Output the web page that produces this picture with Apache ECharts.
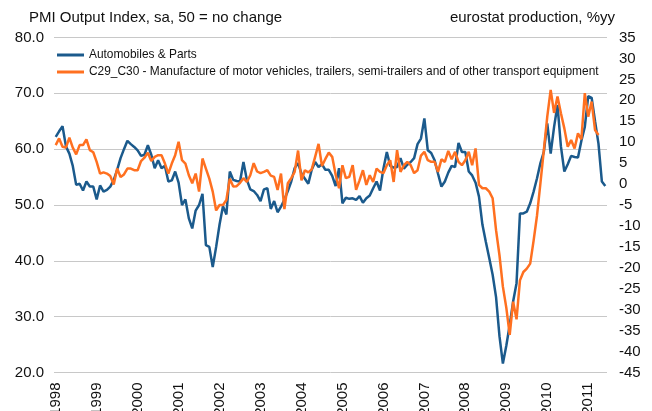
<!DOCTYPE html>
<html>
<head>
<meta charset="utf-8">
<script src="https://cdn.jsdelivr.net/npm/echarts@6/dist/echarts.min.js"></script>
<style>
  html, body { margin: 0; padding: 0; background: #fff; }
  #chart { width: 652px; height: 411px; }
</style>
</head>
<body>
<div id="chart"></div>
<script>
// monthly, Jan 1998 onwards
const years = [1998, 1999, 2000, 2001, 2002, 2003, 2004, 2005, 2006, 2007, 2008, 2009, 2010, 2011]
const monthCount = 162

// PMI output index, automobiles & parts (left axis)
const autoParts = [
  62.2, 63.2, 64.1, 60.5, 59.2, 57.0, 53.6, 53.8, 52.6, 54.2, 53.3, 53.3,
  51.0, 53.5, 52.4, 52.7, 53.3, 54.5, 56.3, 58.4, 60.0, 61.5, 60.9, 60.4,
  59.8, 58.8, 59.0, 60.7, 59.0, 56.6, 58.0, 56.6, 57.0, 54.2, 54.4, 56.0,
  54.0, 50.0, 51.0, 47.6, 45.8, 49.0, 50.0, 52.0, 42.8, 42.5, 38.9, 42.5,
  46.5, 49.8, 48.3, 56.0, 54.5, 54.3, 54.2, 57.7, 54.5, 52.8, 52.5, 51.8,
  50.7, 52.8, 53.0, 49.3, 50.7, 48.7, 49.7, 51.0, 52.5, 54.2, 56.6, 57.5,
  55.6, 54.7, 53.8, 56.3, 57.7, 56.8, 57.3, 56.3, 56.3, 55.2, 53.4, 56.6,
  50.3, 51.3, 51.1, 51.2, 50.9, 51.6, 50.4, 51.2, 51.7, 53.0, 54.2, 52.6,
  56.5, 59.5, 57.0, 56.7, 56.8, 58.4, 56.5, 57.2, 57.7, 58.4, 60.9, 61.9,
  65.5, 59.8, 59.3, 58.0, 55.6, 53.3, 54.2, 55.8, 57.0, 56.8, 61.1, 59.5,
  59.5, 56.0, 55.3, 54.0, 51.5, 46.5, 43.4, 40.5, 37.5, 33.5, 26.5, 21.6,
  24.8, 28.5, 32.7, 36.0, 48.5, 48.5, 48.8, 50.3, 52.4, 54.8, 57.5, 59.5,
  64.6, 59.2, 64.0, 67.9, 60.5, 56.0, 57.3, 58.8, 58.6, 58.5, 61.5, 64.0,
  69.5, 69.2, 65.0, 61.0, 54.2, 53.4
]

// eurostat production C29_C30, %yy (right axis)
const c29c30 = [
  9.3, 10.9, 8.9, 8.7, 11.1, 8.7, 7.1, 9.3, 9.3, 10.7, 8.1, 7.6,
  5.3, 2.5, 2.8, 2.5, 1.9, -0.1, 3.7, 1.7, 2.3, 3.7, 3.7, 3.3,
  3.3, 5.5, 6.3, 7.5, 5.5, 6.5, 6.9, 6.9, 4.9, 2.5, 4.9, 6.9,
  10.1, 5.7, 4.9, 2.1, 0.2, 2.5, -1.8, 6.1, 3.7, 1.3, -1.8, -6.3,
  -5.0, -5.0, -3.8, 1.3, -0.6, -0.5, 0.3, 1.4, 0.5, 2.1, 5.0, 3.0,
  2.6, 2.9, 3.3, 2.0, 1.7, -1.4, 2.5, -6.0, 0.2, 1.4, 2.9, 8.0,
  0.9, 3.3, 2.8, 3.5, 6.5, 9.6, 4.3, 6.0, 7.5, 6.5, 2.3, -1.0,
  4.5, 1.4, 1.7, 4.5, -1.4, 0.9, 3.3, -0.2, 2.1, 0.5, 3.7, 2.9,
  2.6, 4.5, 5.7, 0.5, 8.1, 2.9, 4.5, 5.3, 4.5, 2.6, 3.3, 6.8,
  7.7, 5.7, 5.3, 5.3, 2.9, 5.9, 5.3, 7.9, 5.9, 7.7, 5.3, 4.5,
  5.7, 7.7, 4.5, 8.5, -0.2, -1.0, -1.0, -1.8, -3.4, -11.0, -17.0, -24.5,
  -29.5, -36.0, -28.1, -32.3, -23.0, -21.0, -20.2, -19.0, -13.5, -7.5, 0.2, 8.1,
  16.1, 22.5, 17.0, 20.9, 16.9, 13.3, 8.9, 10.5, 8.5, 12.1, 10.7, 21.7,
  16.1, 19.7, 12.9, 11.7
]

const months = []
years.forEach(y => {
  for (let m = 1; m <= 12; m++) {
    months.push(y + '-' + (m < 10 ? '0' + m : m))
  }
})
const categories = months.slice(0, monthCount)

const font = 'Liberation Sans, Arial, sans-serif'
const chart = echarts.init(document.getElementById('chart'))
chart.setOption({
  animation: false,
  backgroundColor: '#fff',
  title: [
    {
      text: 'PMI Output Index, sa, 50 = no change',
      left: 24,
      top: 5,
      textStyle: { fontFamily: font, fontSize: 15, fontWeight: 'normal', color: '#111' }
    },
    {
      text: 'eurostat production, %yy',
      right: 32,
      top: 5,
      textStyle: { fontFamily: font, fontSize: 15, fontWeight: 'normal', color: '#111' }
    }
  ],
  legend: {
    orient: 'vertical',
    left: 52,
    top: 44,
    itemWidth: 27,
    itemHeight: 3,
    itemGap: 5,
    icon: 'rect',
    textStyle: { fontFamily: font, fontSize: 11.9, color: '#111' },
    data: ['Automobiles & Parts', 'C29_C30 - Manufacture of motor vehicles, trailers, semi-trailers and of other transport equipment']
  },
  grid: {
    left: 54,
    right: 45,
    top: 37.5,
    bottom: 38.5,
    outerBoundsMode: 'none'
  },
  xAxis: {
    type: 'category',
    data: categories,
    boundaryGap: true,
    axisLine: { show: false },
    axisTick: { show: false },
    axisLabel: {
      interval: 11,
      rotate: 90,
      margin: 10,
      fontFamily: font,
      fontSize: 15,
      color: '#111',
      formatter: v => v.slice(0, 4)
    }
  },
  yAxis: [
    {
      type: 'value',
      min: 20,
      max: 80,
      interval: 10,
      axisLine: { show: false },
      axisTick: { show: false },
      splitLine: { lineStyle: { color: '#c8c8c8', width: 1 } },
      axisLabel: {
        margin: 10,
        fontFamily: font,
        fontSize: 15,
        color: '#111',
        formatter: v => v.toFixed(1)
      }
    },
    {
      type: 'value',
      min: -45,
      max: 35,
      interval: 5,
      axisLine: { show: false },
      axisTick: { show: false },
      splitLine: { show: false },
      axisLabel: {
        margin: 12,
        fontFamily: font,
        fontSize: 15,
        color: '#111'
      }
    }
  ],
  series: [
    {
      name: 'Automobiles & Parts',
      type: 'line',
      yAxisIndex: 0,
      showSymbol: false,
      color: '#1b5a8c',
      lineStyle: { width: 2.5 },
      data: autoParts
    },
    {
      name: 'C29_C30 - Manufacture of motor vehicles, trailers, semi-trailers and of other transport equipment',
      type: 'line',
      yAxisIndex: 1,
      showSymbol: false,
      color: '#ff7020',
      lineStyle: { width: 2.5 },
      data: c29c30
    }
  ]
})
</script>
</body>
</html>
